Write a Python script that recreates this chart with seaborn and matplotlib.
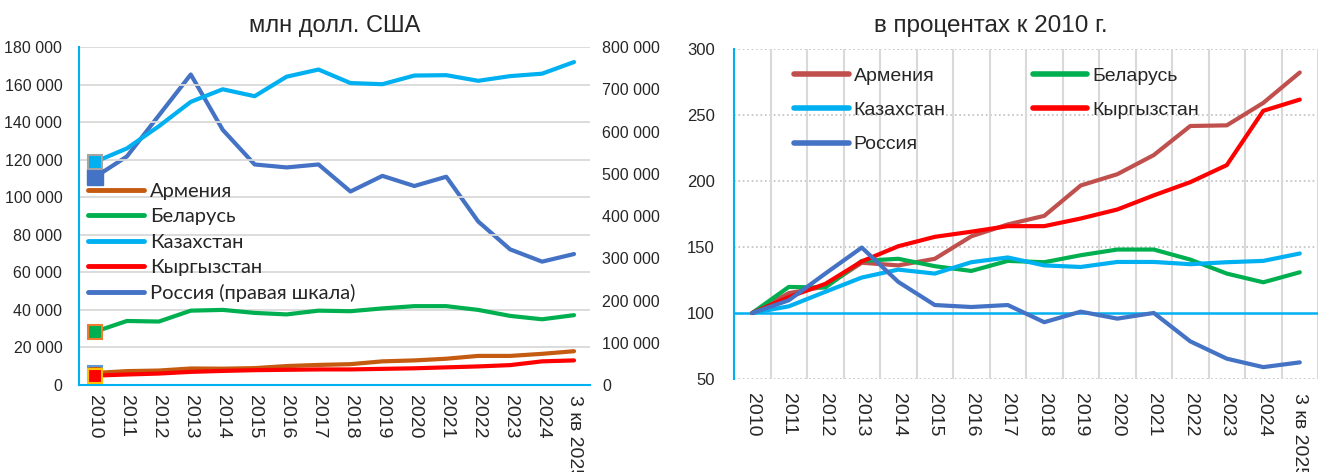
import numpy as np
import pandas as pd
import seaborn as sns
import matplotlib.pyplot as plt
from matplotlib.lines import Line2D
from matplotlib.ticker import FuncFormatter, MultipleLocator

sns.set_theme(style="white")
plt.rcParams['font.family'] = ['Liberation Sans', 'DejaVu Sans']

years = ['2010', '2011', '2012', '2013', '2014', '2015', '2016', '2017',
         '2018', '2019', '2020', '2021', '2022', '2023', '2024', '3 кв 2025']

# млн долл. США
armenia_usd = [6400, 7400, 7700, 8800, 8700, 9000, 10100, 10700,
               11100, 12600, 13100, 14000, 15500, 15500, 16600, 18000]
belarus_usd = [28400, 34100, 33800, 39600, 40000, 38400, 37600, 39600,
               39300, 40800, 42000, 42000, 40000, 36800, 35000, 37200]
kazakh_usd = [118800, 126000, 137800, 150800, 157500, 153800, 164200, 168000,
              160800, 160200, 164800, 165000, 162000, 164500, 165800, 172000]
kyrgyz_usd = [5000, 5600, 6100, 7000, 7500, 7900, 8100, 8300,
              8300, 8600, 8900, 9400, 9900, 10600, 12600, 13100]
russia_usd = [492000, 541000, 638000, 735000, 604000, 522000, 515000, 522000,
              458000, 495000, 471000, 493000, 387000, 321000, 292000, 310000]

# в процентах к 2010 г.
armenia_pct = [100, 115, 120, 138, 136, 141, 158, 167, 173.5, 196.5, 205, 219.5, 241.5, 242, 259, 282]
belarus_pct = [100, 119.7, 119.2, 139.4, 141, 135.4, 131.8, 139.4, 138.4, 143.7, 148, 148, 140.4, 129.8, 123.2, 130.8]
kazakh_pct = [100, 105, 116, 126.8, 132.8, 129.8, 138.4, 142, 136, 134.8, 138.6, 138.6, 136.9, 138.4, 139.4, 145]
kyrgyz_pct = [100, 112, 122, 139, 150.5, 157.6, 161.5, 165.7, 165.7, 171.5, 178.3, 189, 199, 211.9, 253, 261.5]
russia_pct = [100, 109.6, 129.8, 149.5, 123.5, 106, 104.5, 106, 93, 101, 95.7, 100, 78.5, 65.4, 59, 62.6]

names = ['Армения', 'Беларусь', 'Казахстан', 'Кыргызстан', 'Россия']

x = np.arange(len(years))
fig = plt.figure(figsize=(13.3, 4.72), dpi=100)

spine_c = '#00B0F0'
tick_fs = 11.5

# ---------- left chart ----------
ax1 = fig.add_axes([0.0594, 0.1843, 0.3842, 0.7161])
ax2 = ax1.twinx()
left_cols = ['#C55A11', '#00B050', '#00B0F0', '#FF0000']
edge_cols = ['#5B9BD5', '#ED7D31', '#A5A5A5', '#FFC000']
left_data = [armenia_usd, belarus_usd, kazakh_usd, kyrgyz_usd]

for vals, c in zip(left_data, left_cols):
    sns.lineplot(x=x, y=vals, ax=ax1, color=c, linewidth=3, zorder=3)
sns.lineplot(x=x, y=russia_usd, ax=ax2, color='#4472C4', linewidth=3, zorder=3)
ax1.set_zorder(ax2.get_zorder() + 1)
ax1.patch.set_visible(False)

for vals, c, ec in zip(left_data, left_cols, edge_cols):
    ax1.plot(x[:1], vals[:1], marker='s', markersize=10, color=c,
             markeredgecolor=ec, markeredgewidth=1.5, zorder=5, ls='none')
ax2.plot(x[:1], russia_usd[:1], marker='s', markersize=11, color='#4472C4',
         markeredgecolor='#4472C4', zorder=5, ls='none')

ax1.set_xlim(-0.5, 15.5)
ax1.set_ylim(0, 180000)
ax2.set_ylim(0, 800000)
ax1.yaxis.set_major_locator(MultipleLocator(20000))
ax2.yaxis.set_major_locator(MultipleLocator(100000))
fmt = FuncFormatter(lambda v, p: f"{int(v):,}".replace(',', ' '))
ax1.yaxis.set_major_formatter(fmt)
ax2.yaxis.set_major_formatter(fmt)
ax1.set_xticks(x)
ax1.set_xticklabels(years, rotation=-90, fontsize=14, va='top', ha='center')
ax1.tick_params(axis='x', length=0, pad=7, labelbottom=True)
ax1.tick_params(axis='y', length=0, pad=12, labelsize=tick_fs)
ax2.tick_params(axis='y', length=0, pad=9, labelsize=tick_fs)
ax2.tick_params(axis='x', length=0, labelbottom=False)

for gy in np.arange(20000, 180001, 20000):
    ax1.axhline(gy, color='#D9D9D9', lw=1.3, zorder=0)
for s in ['top', 'right']:
    ax1.spines[s].set_visible(False)
for s in ['top', 'right', 'left', 'bottom']:
    ax2.spines[s].set_visible(False)
ax1.spines['left'].set_color(spine_c)
ax1.spines['bottom'].set_color(spine_c)
ax1.spines['left'].set_linewidth(1.5)
ax1.spines['bottom'].set_linewidth(1.5)
ax1.set_title('млн долл. США', fontsize=17, pad=11)

handles = [Line2D([], [], color=c, lw=3.5) for c in left_cols + ['#4472C4']]
labels = names[:4] + ['Россия (правая шкала)']
ax1.legend(handles, labels, loc='upper left', bbox_to_anchor=(0.0176, 0.597),
           frameon=False, prop={'family': 'Lato', 'size': 14.5},
           handlelength=2.8, handletextpad=0.3, labelspacing=0.4,
           borderpad=0, borderaxespad=0)

# ---------- right chart ----------
ax3 = fig.add_axes([0.5519, 0.197, 0.4391, 0.6998])
right_cols = ['#C0504D', '#00B050', '#00B0F0', '#FF0000', '#4472C4']
right_data = [armenia_pct, belarus_pct, kazakh_pct, kyrgyz_pct, russia_pct]
for vals, c in zip(right_data, right_cols):
    sns.lineplot(x=x, y=vals, ax=ax3, color=c, linewidth=3, zorder=3)

ax3.set_xlim(-0.5, 15.5)
ax3.set_ylim(50, 300)
ax3.yaxis.set_major_locator(MultipleLocator(50))
ax3.set_xticks(x)
ax3.set_xticklabels(years, rotation=-90, fontsize=14, va='top', ha='center')
ax3.set_xticks(np.arange(0.5, 16, 1), minor=True)
ax3.tick_params(axis='x', which='both', length=0, pad=10)
ax3.tick_params(axis='y', length=0, pad=14, labelsize=12)
ax3.grid(axis='x', which='minor', color='#D9D9D9', lw=1.5, zorder=0)
for gy in [50, 150, 200, 250, 300]:
    ax3.axhline(gy, color='#BFBFBF', lw=1.2, ls=':', zorder=0)
ax3.axhline(100, color=spine_c, lw=1.8, zorder=2)
for s in ['top', 'right', 'bottom']:
    ax3.spines[s].set_visible(False)
ax3.spines['left'].set_color(spine_c)
ax3.spines['left'].set_linewidth(1.5)
ax3.set_title('в процентах к 2010 г.', fontsize=17.5, pad=12, x=0.44)

order = [0, 2, 4, 1, 3]
rh = [Line2D([], [], color=right_cols[i], lw=4) for i in order]
rl = [names[i] for i in order]
ax3.legend(rh, rl, loc='upper left', bbox_to_anchor=(0.103, 0.943), ncol=2,
           frameon=False, fontsize=14, handlelength=2.8, handletextpad=0.25,
           labelspacing=0.85, columnspacing=4.5, borderpad=0, borderaxespad=0)

fig.savefig('out.png', dpi=100)
